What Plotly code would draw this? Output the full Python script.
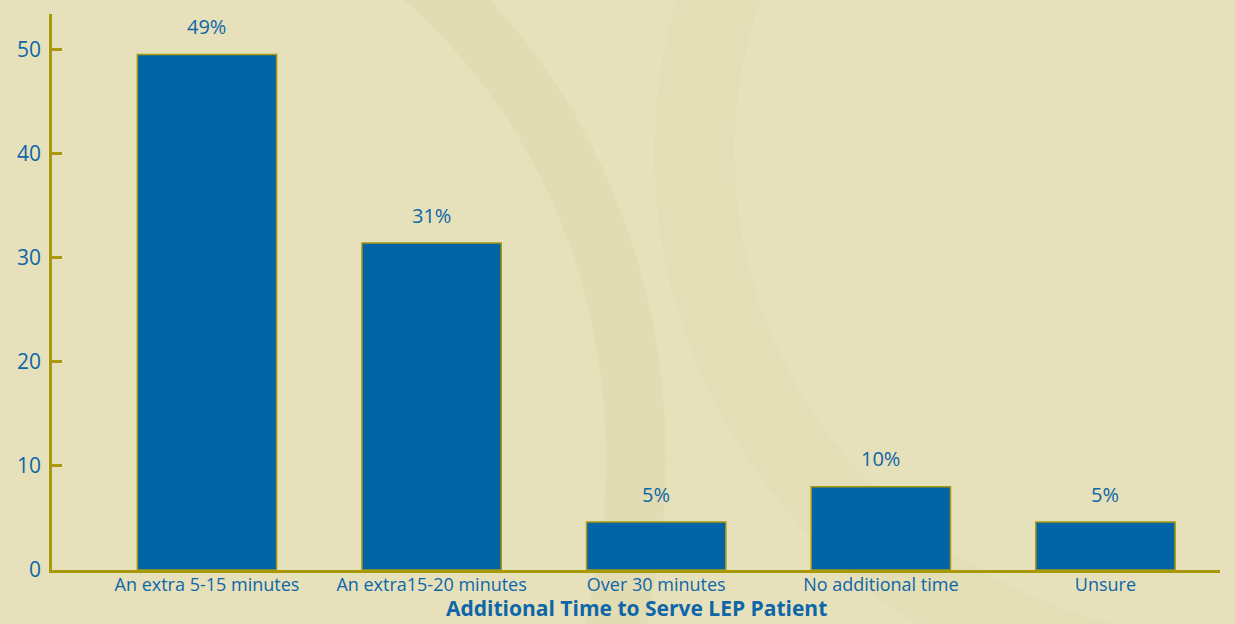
import plotly.graph_objects as go

categories = ["An extra 5-15 minutes", "An extra15-20 minutes", "Over 30 minutes",
              "No additional time", "Unsure"]
heights = [49.5, 31.4, 4.6, 8.0, 4.6]
pct_labels = ["49%", "31%", "5%", "10%", "5%"]
y_ticks = [0, 10, 20, 30, 40, 50]
x_title = "Additional Time to Serve LEP Patient"

BLUE = "#0064a6"
TEXT = "#0e66a8"
OLIVE = "#a8980c"
BG = "#e6e1bb"
FONT = "Open Sans"

fig = go.Figure()
fig.add_trace(go.Bar(
    x=categories, y=heights, width=0.62,
    marker=dict(color=BLUE, line=dict(color=OLIVE, width=1.5)),
    hoverinfo="skip",
))

for c, h, t in zip(categories, heights, pct_labels):
    fig.add_annotation(x=c, y=h, text=t, showarrow=False, yshift=28,
                       font=dict(family=FONT, size=20, color=TEXT))

fig.add_annotation(xref="paper", yref="paper", x=0.5, y=0, yanchor="bottom", yshift=-53,
                   borderpad=0, text="<b>" + x_title + "</b>", showarrow=False,
                   font=dict(family=FONT, size=21, color=TEXT))

# faint decorative background shapes
fig.add_shape(type="circle", xref="paper", yref="paper", x0=-0.45, x1=0.5, y0=-0.9, y1=1.3,
              line=dict(color="rgba(215,205,150,0.22)", width=60), layer="below")
fig.add_shape(type="circle", xref="paper", yref="paper", x0=0.55, x1=1.5, y0=-0.2, y1=1.7,
              line=dict(color="rgba(215,205,150,0.15)", width=80), layer="below")

fig.update_layout(
    width=1235, height=624,
    margin=dict(l=52, r=15, t=14, b=54),
    paper_bgcolor=BG, plot_bgcolor="rgba(0,0,0,0)",
    showlegend=False,
    font=dict(family=FONT, color=TEXT),
    xaxis=dict(
        type="category", range=[-0.69, 4.51], automargin=False,
        showline=True, linecolor=OLIVE, linewidth=2.5,
        ticks="", showgrid=False,
        tickfont=dict(family=FONT, size=18, color=TEXT),
        ticklabelstandoff=-3,
    ),
    yaxis=dict(
        range=[0, 53.4], tickvals=y_ticks, automargin=False,
        showline=True, linecolor=OLIVE, linewidth=2.5,
        ticks="inside", ticklen=10, tickwidth=2.5, tickcolor=OLIVE,
        showgrid=False, zeroline=False,
        tickfont=dict(family=FONT, size=21, color=TEXT),
        ticklabelstandoff=4,
    ),
)

fig.write_html("out.html")
